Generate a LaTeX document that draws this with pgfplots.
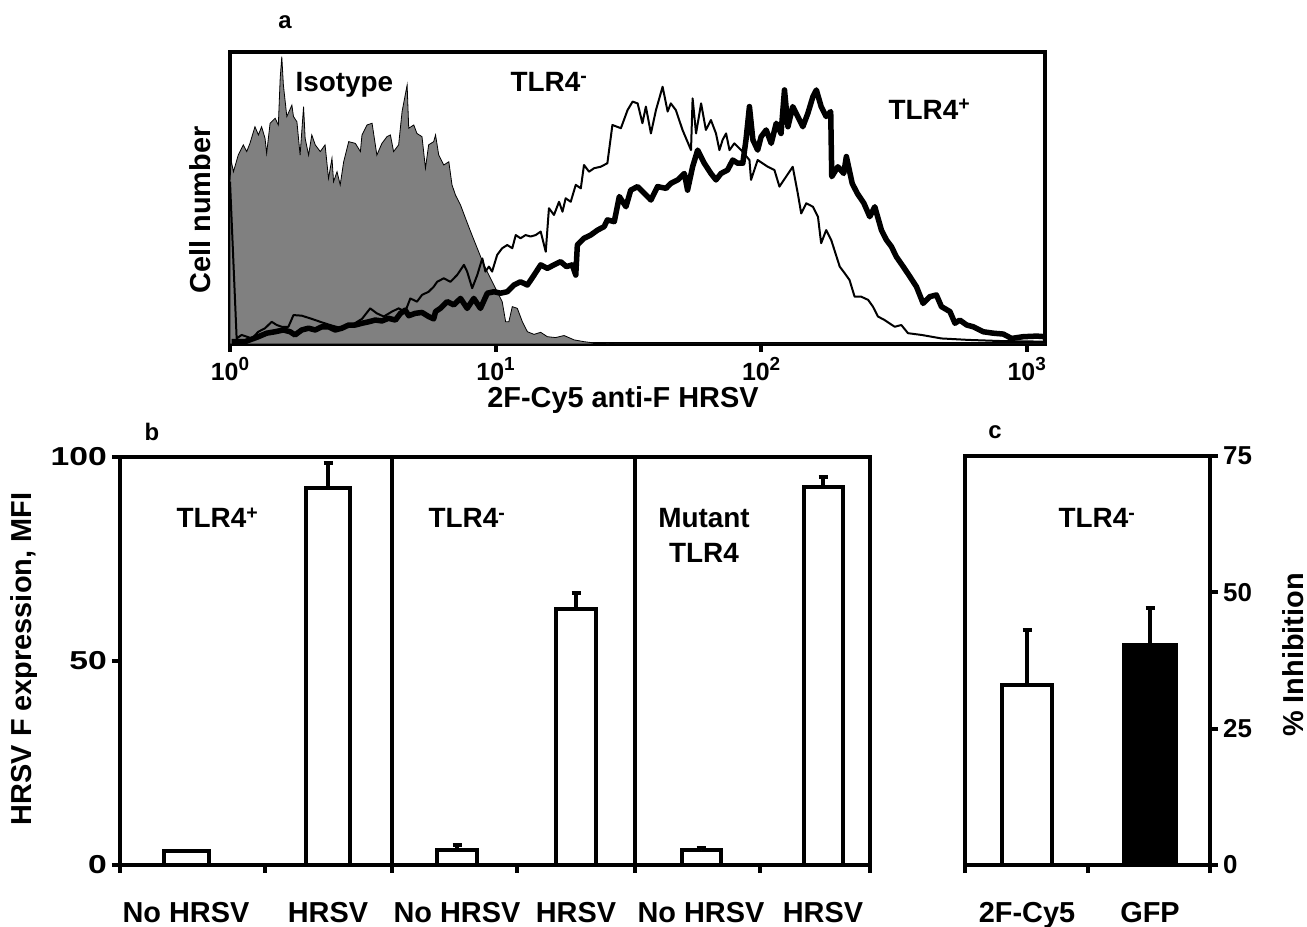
\documentclass[border=0pt]{standalone}
\usepackage{fontspec}
\setmainfont{Liberation Sans}
\usepackage{pgfplots}
\pgfplotsset{compat=1.18}
\newcommand\fz[1]{\fontsize{#1}{#1}\selectfont\bfseries}
\newcommand\tpow[1]{10\raisebox{0.42em}{\fontsize{19}{19}\selectfont #1}}
\definecolor{isogray}{RGB}{128,128,128}
\begin{document}
\begin{tikzpicture}
\useasboundingbox (0bp,0bp) rectangle (1307bp,927bp);
\pgfplotsset{
  common/.style={
    scale only axis, anchor=south west,
    /pgf/number format/assume math mode=true,
    axis line style={line width=4bp},
    every tick/.style={black, line width=4bp},
    tick align=outside,
    major tick length=8bp, minor tick length=8bp,
    ticklabel style={font=\fz{26}},
  },
  eb/.style={error bars/.cd, y dir=plus, y explicit, error mark=|,
    error bar style={line width=4bp}, error mark options={line width=4bp, mark size=4.5bp}},
}
% ---------------- panel a ----------------
\begin{axis}[common, at={(230bp,583bp)}, width=815bp, height=292bp,
  xmin=0, xmax=3.069, ymin=0, ymax=100,
  xtick={0,1,2,3}, xtick pos=bottom, ytick=\empty,
  xticklabels={\tpow{0},\tpow{1},\tpow{2},\tpow{3}},
  xticklabel style={font=\fz{25}, inner sep=0bp, yshift=-5bp}]
\addplot[draw=black, line width=0.8bp, fill=isogray] coordinates {
(0,0) (0,55.6) (0.004,63.0) (0.013,59.0) (0.031,64.7) (0.050,68.2) (0.063,65.9) (0.075,68.7) (0.094,74.4) (0.107,71.6) (0.119,74.4) (0.132,70.4) (0.138,65.3) (0.151,75.6) (0.170,77.3) (0.182,75.0) (0.189,91.0) (0.195,98.4) (0.201,88.7) (0.214,77.9) (0.233,81.8) (0.239,77.9) (0.252,76.1) (0.264,64.7) (0.277,81.3) (0.283,70.4) (0.296,64.7) (0.308,71.6) (0.321,68.2) (0.340,65.9) (0.358,68.2) (0.371,56.7) (0.384,63.6) (0.390,55.6) (0.403,59.0) (0.415,54.5) (0.428,62.4) (0.447,69.3) (0.472,68.7) (0.491,65.9) (0.497,71.6) (0.516,75.0) (0.535,75.6) (0.553,64.7) (0.572,68.7) (0.591,71.0) (0.604,71.6) (0.616,65.9) (0.635,68.2) (0.648,79.6) (0.667,88.7) (0.673,73.9) (0.692,75.0) (0.704,72.1) (0.723,71.0) (0.736,60.2) (0.748,68.2) (0.767,69.3) (0.774,71.6) (0.786,64.7) (0.805,61.3) (0.824,62.4) (0.836,54.5) (0.849,51.0) (0.868,47.6) (0.887,43.0) (0.906,38.5) (0.931,32.8) (0.956,27.1) (0.981,22.5) (1.006,17.9) (1.025,14.5) (1.038,7.6) (1.050,7.6) (1.063,12.8) (1.082,12.2) (1.101,7.6) (1.120,4.2) (1.145,3.3) (1.170,4.0) (1.195,2.5) (1.226,2.2) (1.258,2.9) (1.296,1.4) (1.333,0.8) (1.384,0.2) (1.459,0) (3.069,0)
} \closedcycle;
\addplot[black, line width=2bp, line join=round] coordinates {
(0,55.6) (0.025,1.9) (0.044,3.1) (0.063,2.5) (0.082,1.9) (0.107,4.2) (0.132,5.4) (0.157,7.6) (0.176,6.5) (0.195,5.9) (0.220,5.9) (0.239,9.9) (0.270,9.7) (0.308,8.6) (0.346,7.4) (0.384,6.3) (0.421,5.4) (0.459,6.5) (0.497,8.6) (0.528,12.2) (0.553,10.5) (0.579,9.4) (0.610,11.1) (0.635,12.2) (0.660,11.1) (0.679,15.6) (0.704,14.5) (0.723,16.8) (0.748,17.9) (0.767,19.6) (0.780,21.3) (0.805,22.5) (0.830,21.3) (0.855,23.6) (0.881,27.1) (0.893,24.8) (0.912,19.1) (0.931,23.6) (0.950,29.3) (0.962,24.8) (0.975,26.5) (0.987,24.8) (1.006,30.5) (1.025,32.8) (1.044,33.9) (1.063,32.8) (1.076,37.3) (1.094,36.2) (1.113,37.3) (1.132,36.8) (1.151,37.3) (1.170,38.5) (1.189,31.6) (1.201,46.5) (1.220,44.2) (1.239,48.7) (1.252,45.3) (1.264,49.9) (1.283,48.7) (1.302,54.5) (1.321,53.3) (1.333,61.3) (1.352,59.0) (1.371,60.2) (1.396,60.7) (1.421,61.9) (1.440,75.0) (1.472,73.9) (1.497,80.1) (1.516,83.0) (1.535,82.4) (1.553,75.6) (1.566,81.3) (1.585,72.1) (1.604,80.1) (1.629,88.1) (1.648,79.6) (1.660,82.4) (1.679,80.1) (1.704,73.3) (1.736,66.4) (1.742,84.1) (1.755,72.1) (1.774,82.4) (1.792,73.3) (1.811,76.7) (1.830,72.1) (1.843,66.4) (1.855,69.9) (1.868,72.1) (1.881,66.4) (1.899,68.7) (1.925,66.4) (1.956,63.0) (1.962,56.2) (1.987,63.0) (2.025,60.7) (2.050,59.6) (2.069,53.9) (2.094,57.3) (2.119,60.7) (2.138,51.6) (2.151,44.7) (2.170,48.2) (2.195,47.0) (2.214,43.6) (2.226,34.5) (2.245,39.0) (2.264,35.6) (2.296,26.5) (2.315,24.2) (2.333,21.9) (2.352,16.2) (2.377,16.2) (2.403,15.1) (2.421,12.8) (2.440,9.4) (2.465,8.2) (2.503,5.9) (2.528,6.5) (2.553,3.7) (2.604,3.1) (2.679,1.9) (2.780,1.4) (2.906,1.0) (3.069,0.8)
};
\addplot[black, line width=5.5bp, line join=round] coordinates {
(0.006,0.8) (0.057,0.8) (0.107,2.5) (0.138,3.7) (0.170,4.2) (0.201,4.8) (0.226,4.2) (0.245,3.1) (0.270,4.8) (0.296,5.4) (0.321,4.8) (0.346,5.9) (0.371,5.9) (0.396,4.8) (0.421,5.4) (0.447,6.5) (0.472,6.5) (0.497,7.1) (0.522,7.6) (0.547,8.2) (0.572,7.9) (0.597,8.8) (0.623,8.2) (0.642,10.5) (0.660,11.6) (0.673,9.7) (0.698,10.5) (0.723,10.8) (0.748,9.4) (0.767,8.6) (0.774,11.1) (0.792,12.2) (0.818,14.5) (0.843,13.4) (0.868,15.6) (0.893,12.2) (0.918,15.6) (0.943,12.2) (0.969,17.4) (0.994,17.9) (1.019,17.4) (1.044,17.9) (1.069,20.2) (1.094,21.3) (1.120,20.2) (1.145,23.6) (1.170,27.1) (1.195,25.9) (1.220,27.1) (1.245,28.2) (1.267,26.5) (1.289,27.1) (1.302,23.6) (1.308,33.9) (1.333,36.2) (1.358,37.3) (1.384,39.0) (1.409,40.2) (1.421,42.5) (1.447,41.9) (1.466,50.5) (1.491,47.0) (1.509,52.7) (1.535,53.9) (1.560,51.6) (1.585,49.3) (1.610,53.9) (1.642,53.3) (1.660,55.0) (1.686,56.2) (1.711,58.4) (1.723,52.7) (1.742,60.7) (1.761,66.4) (1.786,61.9) (1.811,58.4) (1.830,56.2) (1.849,58.4) (1.874,59.6) (1.893,63.0) (1.912,61.9) (1.931,61.9) (1.943,69.9) (1.956,81.3) (1.969,69.9) (1.987,66.4) (2.000,71.0) (2.019,73.3) (2.038,68.7) (2.057,75.6) (2.075,72.1) (2.088,87.0) (2.101,74.4) (2.119,81.3) (2.138,77.9) (2.157,74.4) (2.176,79.0) (2.195,84.7) (2.208,87.0) (2.226,81.3) (2.245,77.9) (2.262,79.6) (2.266,57.3) (2.289,60.7) (2.311,58.4) (2.321,64.2) (2.343,55.0) (2.362,51.6) (2.387,48.2) (2.409,43.6) (2.428,47.0) (2.453,39.0) (2.472,35.6) (2.491,33.3) (2.509,29.9) (2.535,26.5) (2.560,23.1) (2.585,19.6) (2.610,13.9) (2.635,16.2) (2.660,16.8) (2.679,12.8) (2.711,11.1) (2.730,7.1) (2.748,8.2) (2.774,6.5) (2.799,5.9) (2.836,4.2) (2.874,3.7) (2.912,3.4) (2.943,1.9) (2.987,2.5) (3.038,2.7) (3.069,2.5)
};
\end{axis}
% ---------------- panel b ----------------
\begin{axis}[common, at={(120bp,62bp)}, width=750bp, height=408bp,
  xmin=0, xmax=750, ymin=0, ymax=100,
  ytick={0,50,100}, ytick pos=left, xtick pos=bottom,
  yticklabel={\scalebox{1.3}[1]{\pgfmathprintnumber{\tick}}},
  minor xtick={0,145,272,397,515,640,750},
  xtick={66,208,337,456,581,703},
  xticklabels={No HRSV,HRSV,No HRSV,HRSV,No HRSV,HRSV},
  major x tick style={draw=none},
  xticklabel style={font=\fz{29}, anchor=base, yshift=-49bp},
  yticklabel style={inner sep=5bp},
  clip=false]
\addplot[black, line width=4bp] coordinates {(272,0) (272,100)};
\addplot[black, line width=4bp] coordinates {(515,0) (515,100)};
\addplot[ybar, bar width=45, bar shift=0pt, fill=white, draw=black, line width=4bp] coordinates {(66,3.4)};
\addplot[ybar, bar width=44, bar shift=0pt, fill=white, draw=black, line width=4bp, eb]
  coordinates {(208,92.4) +- (0,6.1)};
\addplot[ybar, bar width=40, bar shift=0pt, fill=white, draw=black, line width=4bp, eb]
  coordinates {(337,3.7) +- (0,1.2) (456,62.7) +- (0,4.0)};
\addplot[ybar, bar width=39, bar shift=0pt, fill=white, draw=black, line width=4bp, eb]
  coordinates {(581,3.6) +- (0,0.5) (703,92.6) +- (0,2.4)};
\end{axis}
% ---------------- panel c ----------------
\begin{axis}[common, at={(965bp,62bp)}, width=245bp, height=409bp,
  xmin=0, xmax=245, ymin=0, ymax=75,
  ytick={0,25,50,75}, ytick pos=right, yticklabel pos=right, xtick pos=bottom,
  minor xtick={0,123,245},
  xtick={62,185}, xticklabels={2F-Cy5,GFP},
  major x tick style={draw=none},
  xticklabel style={font=\fz{29}, anchor=base, yshift=-49bp},
  yticklabel style={inner sep=5bp},
  clip=false]
\addplot[ybar, bar width=50, bar shift=0pt, fill=white, draw=black, line width=4bp, eb]
  coordinates {(62,33.0) +- (0,10.1)};
\addplot[ybar, bar width=52, bar shift=0pt, fill=black, draw=black, line width=4bp, eb]
  coordinates {(185,40.4) +- (0,6.8)};
\end{axis}
% ---------------- texts ----------------
\node[font=\fz{24}] at (285bp,905bp) {a};
\node[font=\fz{24}] at (152bp,495bp) {b};
\node[font=\fz{24}] at (995bp,495bp) {c};
\node[font=\fz{28}, anchor=base west] at (292bp,835bp) {Isotype};
\node[font=\fz{28}, anchor=base west] at (507bp,835bp) {TLR4\textsuperscript{-}};
\node[font=\fz{28}, anchor=base west] at (885bp,807bp) {TLR4\textsuperscript{+}};
\node[font=\fz{28}, anchor=base west] at (173bp,399bp) {TLR4\textsuperscript{+}};
\node[font=\fz{28}, anchor=base west] at (425bp,399bp) {TLR4\textsuperscript{-}};
\node[font=\fz{28}, anchor=base] at (704bp,399bp) {Mutant};
\node[font=\fz{28}, anchor=base] at (704bp,364bp) {TLR4};
\node[font=\fz{28}, anchor=base west] at (1055bp,399bp) {TLR4\textsuperscript{-}};
\node[font=\fz{29}, inner sep=0pt, anchor=base] at (623bp,519bp) {2F-Cy5 anti-F HRSV};
\node[font=\fz{29}, rotate=90] at (200bp,717bp) {Cell number};
\node[font=\fz{29}, rotate=90] at (24bp,268bp) {HRSV F expression, MFI};
\node[font=\fz{29}, rotate=90] at (1293bp,272bp) {\% Inhibition};
\end{tikzpicture}
\end{document}
